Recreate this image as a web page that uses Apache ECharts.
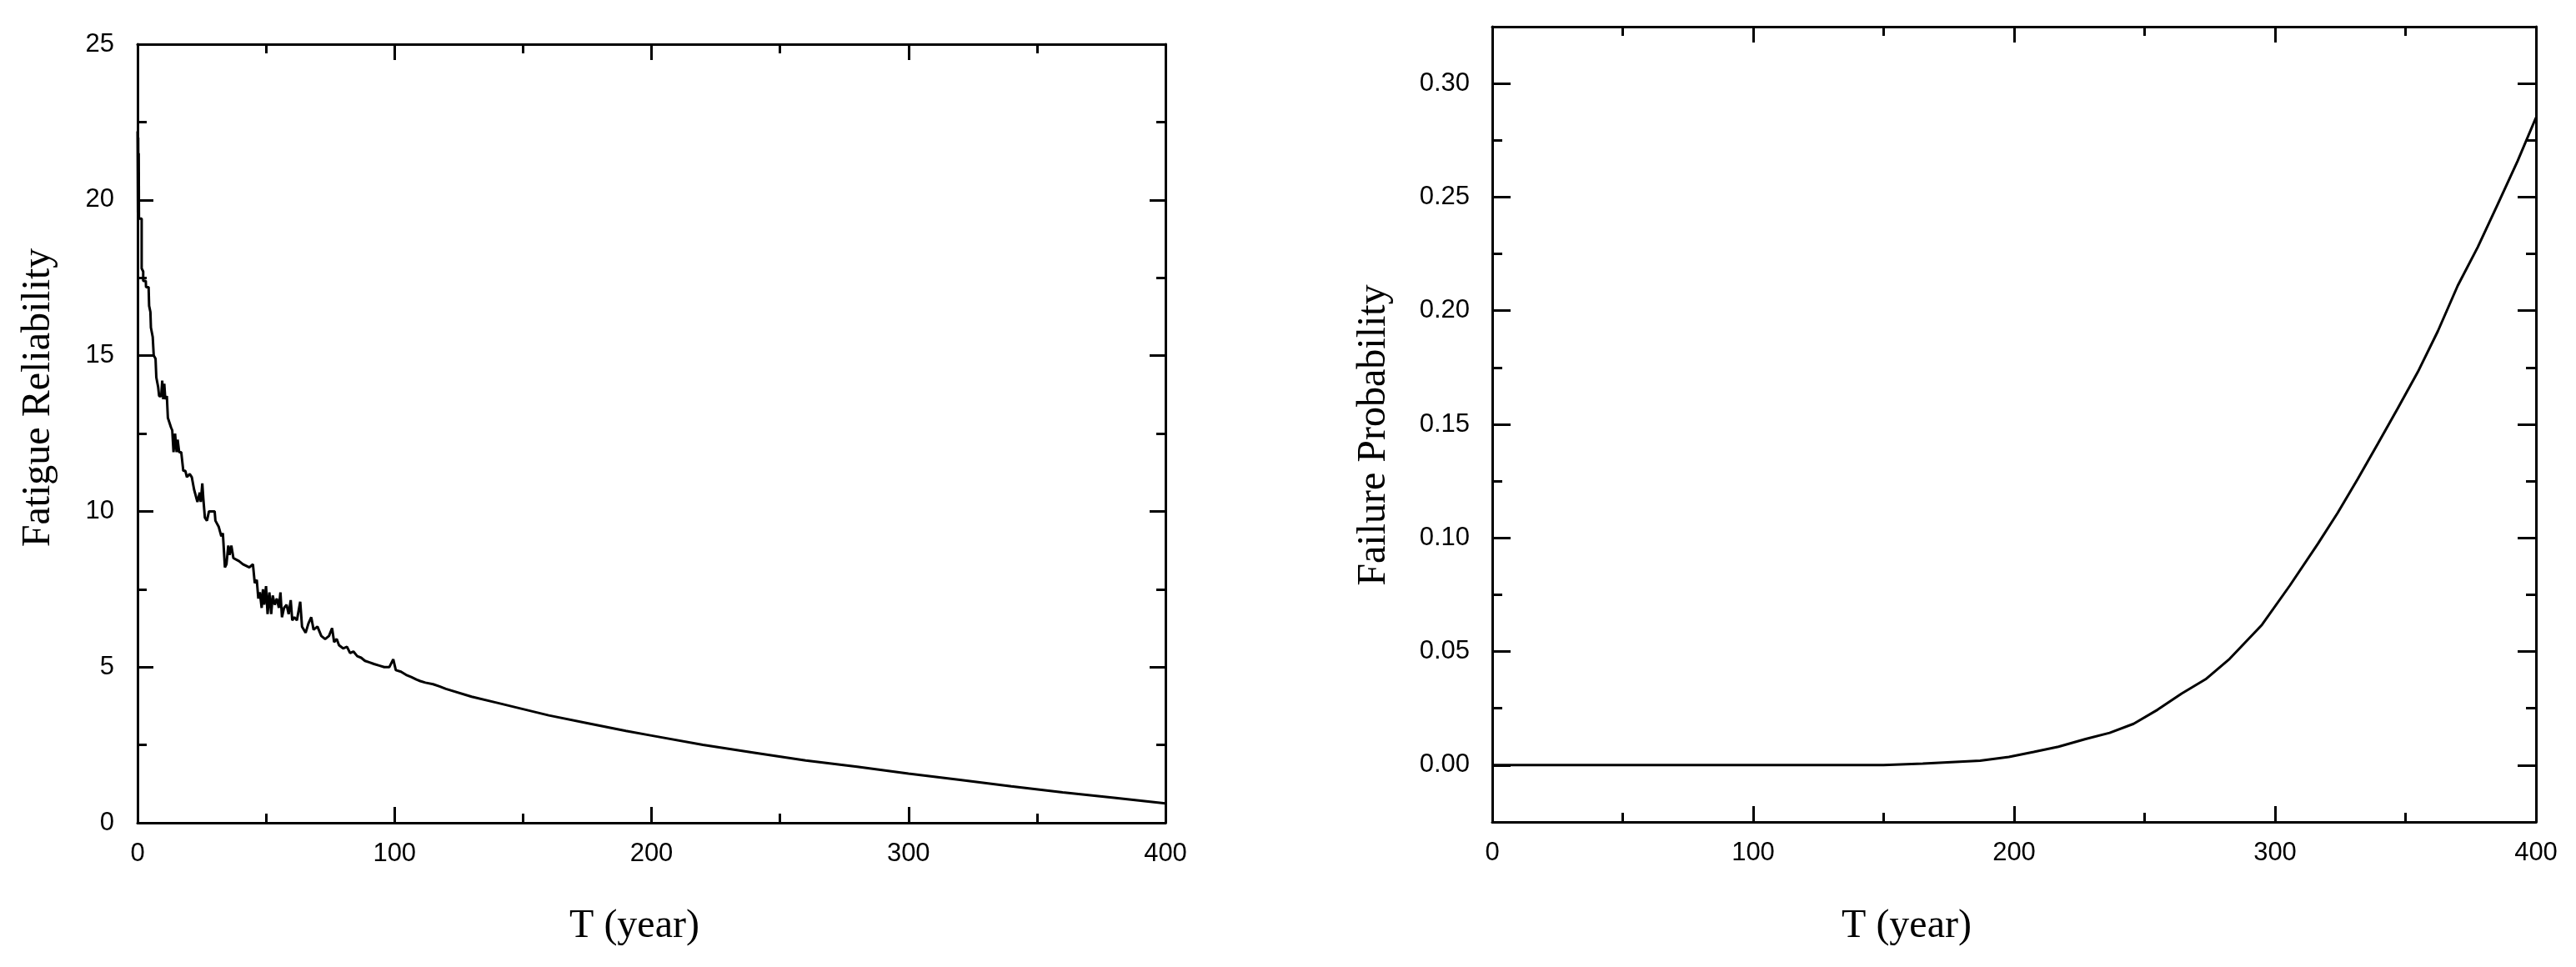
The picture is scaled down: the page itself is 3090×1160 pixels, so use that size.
<!DOCTYPE html>
<html>
<head>
<meta charset="utf-8">
<script src="https://cdn.jsdelivr.net/npm/echarts@6/dist/echarts.min.js"></script>
<style>
html,body{margin:0;padding:0;background:#fff;}
#c{width:3090px;height:1160px;}
</style>
</head>
<body>
<div id="c"></div>
<script>
// Left panel: fatigue reliability vs T (year)
const relYears = [0,0.15,0.25,0.35,0.45,0.55,1.6,1.6,2.2,2.2,3.2,3.3,4.3,4.5,5.0,5.2,5.9,6.3,7.0,7.3,8.0,8.4,9.2,9.6,10.0,10.4,10.8,11.4,11.8,12.4,13.0,13.5,14.0,14.6,15.2,15.6,16.2,17.0,17.8,18.6,19.2,20.3,21.1,22.0,23.3,24.2,24.6,25.2,25.6,26.2,27.0,27.8,30.0,30.3,31.6,32.6,33.2,34.0,34.6,35.3,35.8,36.5,37.3,39.5,41.0,43.5,44.9,45.6,46.4,47.0,47.6,48.3,48.8,49.3,50.0,50.6,51.3,52.0,52.6,53.4,54.2,55.0,55.6,56.2,57.0,58.0,58.8,59.6,60.2,61.0,62.0,63.3,64.0,65.4,66.5,67.6,68.5,70.0,71.5,73.0,74.5,75.7,76.5,77.5,78.4,80.0,81.5,82.7,84.0,85.5,87.0,88.5,90.3,92.0,94.0,96.0,98.0,99.5,100.5,102.5,104.5,106.5,108.5,110.0,112.0,115.0,117.5,120,130,140,150,160,175,190,200,220,240,260,280,300,320,340,360,380,400];
const relValues = [22.2,19.6,22.0,19.5,21.5,19.4,19.4,17.8,17.7,17.4,17.4,17.2,17.2,16.6,16.4,15.9,15.6,15.0,14.9,14.3,14.0,13.7,13.7,14.2,13.6,14.1,13.6,13.7,13.0,13.0,12.7,12.6,11.9,12.5,11.9,12.3,11.9,11.9,11.3,11.3,11.1,11.2,11.1,10.7,10.3,10.6,10.3,10.9,10.4,9.8,9.7,10.0,10.0,9.7,9.5,9.2,9.3,8.2,8.3,8.9,8.6,8.9,8.5,8.4,8.3,8.2,8.3,7.7,7.8,7.2,7.4,6.9,7.5,7.0,7.6,6.7,7.4,6.7,7.3,7.0,7.2,6.9,7.4,6.6,6.9,7.0,6.7,7.15,6.5,6.6,6.5,7.1,6.3,6.1,6.4,6.6,6.2,6.3,6.0,5.9,6.0,6.25,5.8,5.9,5.7,5.6,5.65,5.45,5.5,5.35,5.3,5.2,5.15,5.1,5.05,5.0,5.0,5.25,4.9,4.85,4.75,4.68,4.6,4.55,4.5,4.45,4.38,4.3,4.05,3.85,3.65,3.45,3.2,2.95,2.8,2.5,2.25,2.0,1.8,1.58,1.38,1.17,0.98,0.8,0.62];

// Right panel: failure probability vs T (year)
const probYears = [0,150,165,187,198,207.5,217,227.4,236.6,245.8,255,264.2,273.4,282.6,295,305.7,316.4,324,331.7,339.4,347,354.7,362.4,370,377.7,385.4,393,400];
const probValues = [0,0,0.0007,0.002,0.0036,0.0058,0.0081,0.0115,0.0142,0.0182,0.0244,0.0315,0.0378,0.0468,0.0618,0.0791,0.0974,0.111,0.126,0.1415,0.157,0.173,0.191,0.211,0.228,0.247,0.266,0.285];

// Tick labels
const xTickLabels = [0,100,200,300,400];
const relTickLabels = [0,5,10,15,20,25];
const probTickLabels = [0,0.05,0.10,0.15,0.20,0.25,0.30];

const labelFont = 'Liberation Sans';
const black = '#000';

function axLine(){ return {show:true, onZero:false, lineStyle:{color:black, width:3}}; }

function xAx(grid, pos, labels){
  return {
    type:'value', gridIndex:grid, position:pos, min:0, max:400, interval:100,
    axisLine: axLine(),
    axisTick:{show:true, inside:true, length:19, lineStyle:{color:black,width:3}},
    minorTick:{show:true, splitNumber:2, length:11, lineStyle:{color:black,width:3}},
    splitLine:{show:false}, minorSplitLine:{show:false},
    axisLabel:{show:labels, margin:22, fontFamily:labelFont, fontSize:31, color:black,
      formatter:v=> xTickLabels.indexOf(v)>=0 ? String(v) : ''}
  };
}

const option = {
  animation:false,
  backgroundColor:'#fff',
  grid:[
    {left:165, right:1692, top:53, bottom:173, containLabel:false},
    {left:1790, right:48, top:32, bottom:174, containLabel:false}
  ],
  xAxis:[
    xAx(0,'bottom',true), xAx(0,'top',false),
    xAx(1,'bottom',true), xAx(1,'top',false)
  ],
  yAxis:[
    {type:'value', gridIndex:0, position:'left', min:0, max:25, interval:5,
     axisLine: axLine(),
     axisTick:{show:true, inside:true, length:19, lineStyle:{color:black,width:3}},
     minorTick:{show:true, splitNumber:2, length:11, lineStyle:{color:black,width:3}},
     splitLine:{show:false},
     axisLabel:{show:true, margin:28, fontFamily:labelFont, fontSize:31, color:black,
       formatter:v=> relTickLabels.indexOf(v)>=0 ? String(v) : ''}},
    {type:'value', gridIndex:0, position:'right', min:0, max:25, interval:5,
     axisLine: axLine(),
     axisTick:{show:true, inside:true, length:19, lineStyle:{color:black,width:3}},
     minorTick:{show:true, splitNumber:2, length:11, lineStyle:{color:black,width:3}},
     splitLine:{show:false}, axisLabel:{show:false}},
    {type:'value', gridIndex:1, position:'left', min:-0.025, max:0.325, interval:0.025,
     axisLine: axLine(),
     axisTick:{show:true, inside:true, length:12, lineStyle:{color:black,width:3}},
     splitLine:{show:false}, axisLabel:{show:false}},
    {type:'value', gridIndex:1, position:'left', min:-0.025, max:0.325,
     axisLine:{show:false, onZero:false},
     axisTick:{show:true, inside:true, length:22, customValues:probTickLabels, lineStyle:{color:black,width:3}},
     splitLine:{show:false},
     axisLabel:{show:true, margin:27, fontFamily:labelFont, fontSize:31, color:black,
       customValues:probTickLabels, formatter:v=> v.toFixed(2)}},
    {type:'value', gridIndex:1, position:'right', min:-0.025, max:0.325, interval:0.025,
     axisLine: axLine(),
     axisTick:{show:true, inside:true, length:12, lineStyle:{color:black,width:3}},
     splitLine:{show:false}, axisLabel:{show:false}},
    {type:'value', gridIndex:1, position:'right', min:-0.025, max:0.325,
     axisLine:{show:false, onZero:false},
     axisTick:{show:true, inside:true, length:22, customValues:probTickLabels, lineStyle:{color:black,width:3}},
     splitLine:{show:false}, axisLabel:{show:false}}
  ],
  series:[
    {type:'line', xAxisIndex:0, yAxisIndex:0, showSymbol:false, symbol:'none',
     lineStyle:{color:black, width:3}, clip:true,
     data: relYears.map((x,i)=>[x, relValues[i]])},
    {type:'line', xAxisIndex:2, yAxisIndex:2, showSymbol:false, symbol:'none',
     lineStyle:{color:black, width:3}, clip:true,
     data: probYears.map((x,i)=>[x, probValues[i]])}
  ],
  graphic:[
    {type:'text', x:46, y:477, rotation:Math.PI/2,
     style:{text:'Fatigue Reliability', font:'48px "Liberation Serif"', fill:black, align:'center', verticalAlign:'middle'}},
    {type:'text', x:761, y:1111,
     style:{text:'T (year)', font:'48px "Liberation Serif"', fill:black, align:'center', verticalAlign:'middle'}},
    {type:'text', x:1648, y:522, rotation:Math.PI/2,
     style:{text:'Failure Probability', font:'48px "Liberation Serif"', fill:black, align:'center', verticalAlign:'middle'}},
    {type:'text', x:2287, y:1111,
     style:{text:'T (year)', font:'48px "Liberation Serif"', fill:black, align:'center', verticalAlign:'middle'}}
  ]
};

const chart = echarts.init(document.getElementById('c'), null, {renderer:'canvas'});
chart.setOption(option);
</script>
</body>
</html>
